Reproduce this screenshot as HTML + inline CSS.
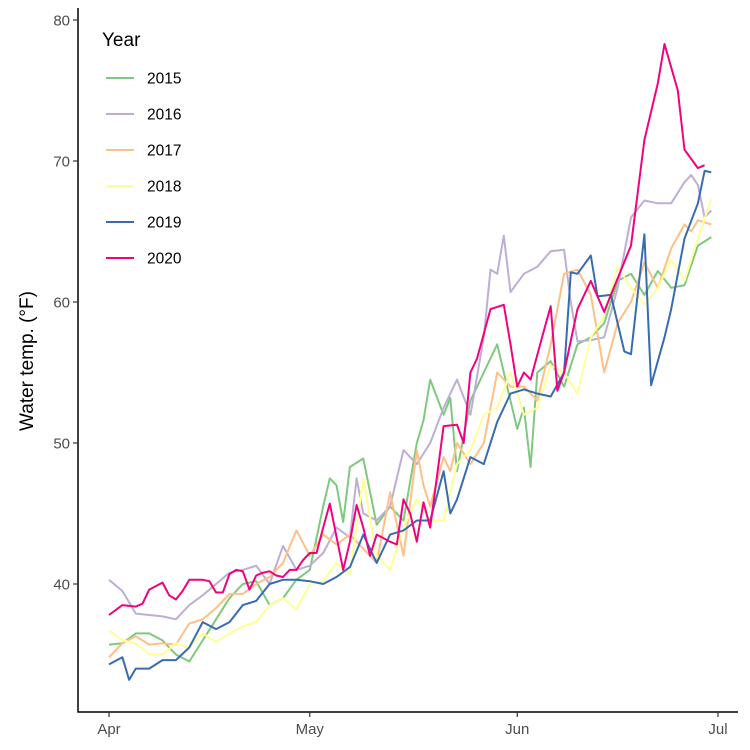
<!DOCTYPE html>
<html><head><meta charset="utf-8"><style>
body{margin:0;background:#fff;}
svg{display:block;font-family:"Liberation Sans",Arial,sans-serif;}
</style></head><body>
<svg id="chart" width="750" height="750">
  <rect width="750" height="750" fill="#fff"/>
  <g id="series"></g>
  <g id="axes"></g>
  <g id="legend"></g>
</svg>
<script>
const yTicks = [40, 50, 60, 70, 80];
const xTickDays = [0, 30, 61, 91];
const xTickLabels = ["Apr", "May", "Jun", "Jul"];
const years = ["2015", "2016", "2017", "2018", "2019", "2020"];
const colors = ["#7fc97f", "#beaed4", "#fdc086", "#ffff99", "#386cb0", "#f0027f"];

const days2015 = [0,2,4,6,8,10,12,14,16,18,20,22,24,26,28,30,32,33,34,35,36,38,40,42,44,46,47,48,50,51,52,54,56,58,60,61,62,63,64,66,68,70,72,74,76,78,80,82,84,86,88,90];
const temps2015 = [35.7,35.8,36.5,36.5,36.0,35.0,34.5,36.0,37.5,39.0,40.0,40.2,38.5,39.0,40.3,41.0,45.5,47.5,47.0,44.4,48.3,48.9,44.2,45.5,44.5,50.0,51.6,54.5,52.0,53.2,48.0,53.0,55.0,57.0,53.0,51.0,52.5,48.3,55.0,55.8,54.0,57.0,57.5,58.5,61.5,62.0,60.5,62.2,61.0,61.2,64.0,64.6];

const days2016 = [0,2,4,6,8,10,12,14,16,18,20,22,24,26,28,30,32,34,36,37,38,40,42,44,46,48,50,52,54,56,57,58,59,60,62,64,66,68,69,70,72,74,76,78,80,82,84,86,87,88,89,90];
const temps2016 = [40.3,39.5,37.9,37.8,37.7,37.5,38.5,39.2,40.0,40.8,41.0,41.3,40.0,42.7,41.0,41.3,42.2,44.0,43.3,47.5,45.0,44.5,45.5,49.5,48.5,50.0,52.5,54.5,52.0,57.5,62.3,62.0,64.7,60.7,62.0,62.5,63.6,63.7,60.0,57.2,57.3,57.5,61.0,66.0,67.2,67.0,67.0,68.5,69.0,68.3,66.0,66.5];

const days2017 = [0,2,4,6,8,10,12,14,16,18,20,22,24,26,28,30,32,34,36,38,40,42,44,46,47,48,50,51,52,54,56,58,60,62,64,66,68,70,72,74,76,78,80,82,84,86,87,88,90];
const temps2017 = [34.8,35.8,36.3,35.7,35.8,35.7,37.2,37.5,38.3,39.3,39.3,40.0,40.5,41.5,43.8,42.0,43.5,42.8,43.5,42.5,41.5,46.5,42.0,49.5,47.0,45.5,49.0,48.0,50.0,48.5,50.0,55.0,54.0,54.0,53.0,57.0,62.0,62.3,60.5,55.0,58.5,60.0,62.8,61.0,63.8,65.5,65.0,65.8,65.5];

const days2018 = [0,2,4,6,8,10,12,14,16,18,20,22,24,26,28,30,32,34,36,38,40,42,44,46,48,50,52,54,56,58,60,62,64,66,68,70,72,74,76,78,80,82,84,86,88,90];
const temps2018 = [36.7,36.0,35.8,35.0,35.0,35.8,35.5,36.5,35.9,36.5,37.0,37.3,38.5,39.0,38.2,40.0,40.2,41.5,40.7,47.5,42.0,41.0,44.0,46.0,44.5,44.5,48.5,49.5,52.0,52.5,55.0,52.0,52.5,55.5,55.0,53.5,57.5,59.0,62.5,61.0,59.8,61.0,63.0,61.5,64.5,67.3];

const days2019 = [0,2,3,4,6,8,10,12,14,16,18,20,22,24,26,28,30,32,34,36,38,40,42,44,46,48,50,51,52,54,56,58,60,62,64,66,68,69,70,72,73,75,77,78,80,81,83,84,86,88,89,90];
const temps2019 = [34.3,34.8,33.2,34.0,34.0,34.6,34.6,35.5,37.3,36.8,37.3,38.5,38.8,40.0,40.3,40.3,40.2,40.0,40.5,41.2,43.5,41.5,43.5,43.8,44.5,44.5,48.0,45.0,46.0,49.0,48.5,51.5,53.5,53.8,53.5,53.3,55.0,62.1,62.0,63.3,60.4,60.5,56.5,56.3,64.8,54.1,57.5,59.5,64.5,67.0,69.3,69.2];

const days2020 = [0,2,4,5,6,8,9,10,11,12,14,15,16,17,18,19,20,21,22,23,24,25,26,27,28,29,30,31,32,33,35,36,37,38,39,40,42,43,44,45,46,47,48,50,52,53,54,55,57,59,60,61,62,63,65,66,67,68,70,72,74,75,78,80,82,83,85,86,88,89];
const temps2020 = [37.8,38.5,38.4,38.6,39.6,40.1,39.2,38.9,39.5,40.3,40.3,40.2,39.4,39.4,40.7,41.0,40.9,39.6,40.6,40.8,40.9,40.6,40.5,41.0,41.0,41.7,42.2,42.2,44.0,45.7,41.0,43.0,45.6,44.0,42.0,43.5,43.0,42.8,46.0,45.0,43.0,45.8,44.0,51.2,51.3,50.0,55.0,56.0,59.5,59.8,57.0,54.0,55.0,54.5,58.0,59.7,53.7,55.0,59.5,61.5,59.3,60.5,64.0,71.5,75.5,78.3,75.0,70.8,69.5,69.7];

const allDays = [days2015, days2016, days2017, days2018, days2019, days2020];
const allTemps = [temps2015, temps2016, temps2017, temps2018, temps2019, temps2020];

const NS = "http://www.w3.org/2000/svg";
const xScale = d => 109 + d * (609 / 91);
const yScale = v => 584 - (v - 40) * 14.1;
function mk(tag, attrs, parent) {
  const e = document.createElementNS(NS, tag);
  for (const k in attrs) e.setAttribute(k, attrs[k]);
  parent.appendChild(e);
  return e;
}
const gS = document.getElementById("series");
allDays.forEach((ds, i) => {
  const pts = ds.map((d, j) => xScale(d).toFixed(1) + "," + yScale(allTemps[i][j]).toFixed(1)).join(" ");
  const pl = mk("polyline", {points: pts, fill: "none", stroke: colors[i], "stroke-width": 2, "stroke-linejoin": "round"}, gS);
  
  
});
const gA = document.getElementById("axes");
const yl = mk("line", {x1: 78, y1: 8, x2: 78, y2: 712.5, stroke: "#000", "stroke-width": 1.5}, gA);


const xl = mk("line", {x1: 77.5, y1: 712, x2: 738, y2: 712, stroke: "#000", "stroke-width": 1.5}, gA);


yTicks.forEach(v => {
  const y = yScale(v);
  const t = mk("line", {x1: 73, y1: y, x2: 78, y2: y, stroke: "#333", "stroke-width": 1.2}, gA);
  
  
  const tx = mk("text", {x: 70, y: y + 5.5, "text-anchor": "end", "font-size": 15, fill: "#4d4d4d"}, gA);
  tx.textContent = v;
  
  
});
xTickDays.forEach((d, i) => {
  const x = xScale(d);
  const t = mk("line", {x1: x, y1: 712, x2: x, y2: 717, stroke: "#333", "stroke-width": 1.2}, gA);
  
  
  const tx = mk("text", {x: x, y: 734, "text-anchor": "middle", "font-size": 15, fill: "#4d4d4d"}, gA);
  tx.textContent = xTickLabels[i];
  
  
});
const yt = mk("text", {x: 0, y: 0, transform: "translate(33,361) rotate(-90)", "text-anchor": "middle", "font-size": 19, fill: "#000"}, gA);
yt.textContent = "Water temp. (°F)";



const gL = document.getElementById("legend");
const lt = mk("text", {x: 102, y: 46, "font-size": 19, fill: "#000"}, gL);
lt.textContent = "Year";


years.forEach((yr, i) => {
  const y = 78 + i * 36;
  const ln = mk("line", {x1: 106, y1: y, x2: 134, y2: y, stroke: colors[i], "stroke-width": 2}, gL);
  
  
  const tx = mk("text", {x: 147, y: y + 5.5, "font-size": 15.5, fill: "#000"}, gL);
  tx.textContent = yr;
  
  
});
</script>
</body></html>
